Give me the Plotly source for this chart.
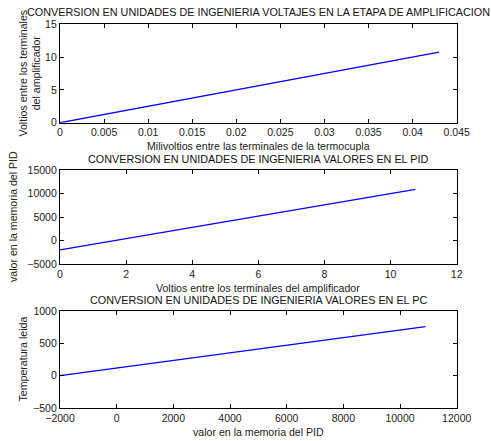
import plotly.graph_objects as go

W, H = 491, 441

# Data (endpoints of straight lines)
mv_x = [0.0, 0.043]
amp_y = [0.0, 10.75]

volt_x = [0.0, 10.75]
pid_y = [-2000.0, 10900.0]

pid_x = [-2000.0, 10900.0]
temp_y = [0.0, 760.0]

titles = [
    "CONVERSION EN UNIDADES DE INGENIERIA VOLTAJES EN LA ETAPA DE AMPLIFICACION",
    "CONVERSION EN UNIDADES DE INGENIERIA VALORES EN EL PID",
    "CONVERSION EN UNIDADES DE INGENIERIA VALORES EN EL PC",
]
xlabels = [
    "Milivoltios entre las terminales de la termocupla",
    "Voltios entre los terminales del amplificador",
    "valor en la memoria del PID",
]
ylabels = [
    "Voltios entre los terminales<br>del amplificador",
    "valor en la memoria del PID",
    "Temperatura leida",
]

x_ticks = [
    [0, 0.005, 0.01, 0.015, 0.02, 0.025, 0.03, 0.035, 0.04, 0.045],
    [0, 2, 4, 6, 8, 10, 12],
    [-2000, 0, 2000, 4000, 6000, 8000, 10000, 12000],
]
x_ticktext = [
    ["0", "0.005", "0.01", "0.015", "0.02", "0.025", "0.03", "0.035", "0.04", "0.045"],
    ["0", "2", "4", "6", "8", "10", "12"],
    ["\u22122000", "0", "2000", "4000", "6000", "8000", "10000", "12000"],
]
y_ticks = [
    [0, 5, 10, 15],
    [-5000, 0, 5000, 10000, 15000],
    [-500, 0, 500, 1000],
]
y_ticktext = [
    ["0", "5", "10", "15"],
    ["\u22125000", "0", "5000", "10000", "15000"],
    ["\u2212500", "0", "500", "1000"],
]
x_ranges = [[0, 0.045], [0, 12], [-2000, 12000]]
y_ranges = [[0, 15], [-5000, 15000], [-500, 1000]]

# pixel boxes (left, top, right, bottom)
left, right = 60, 456.7
boxes_px = [(24.3, 122.7), (170, 264), (311, 408)]
title_y_px = [12.5, 159, 300]
xlab_y_px = [146, 288, 432]
ylab_x_px = [30, 13, 22]

FONT = "Liberation Sans, Arial, sans-serif"

fig = go.Figure()
series = [(mv_x, amp_y), (volt_x, pid_y), (pid_x, temp_y)]
layout = dict(
    width=W, height=H, autosize=False,
    margin=dict(l=0, r=0, t=0, b=0, pad=0, autoexpand=False),
    paper_bgcolor="white", plot_bgcolor="white",
    showlegend=False,
    font=dict(family=FONT, size=10.5, color="#222"),
)
annotations = []
for i, (xs, ys) in enumerate(series):
    n = "" if i == 0 else str(i + 1)
    fig.add_trace(go.Scatter(x=xs, y=ys, mode="lines",
                             line=dict(color="#0000ff", width=1.3),
                             xaxis="x" + n, yaxis="y" + n))
    top, bot = boxes_px[i]
    axcommon = dict(showline=True, linecolor="black", linewidth=1.2, mirror="ticks",
                    ticks="inside", ticklen=4, tickcolor="black", showgrid=False,
                    zeroline=False, automargin=False,
                    tickfont=dict(family=FONT, size=10.5, color="#222"))
    layout["xaxis" + n] = dict(domain=[left / W, right / W], range=x_ranges[i],
                               tickvals=x_ticks[i], ticktext=x_ticktext[i],
                               anchor="y" + n, **axcommon)
    layout["yaxis" + n] = dict(domain=[1 - bot / H, 1 - top / H], range=y_ranges[i],
                               tickvals=y_ticks[i], ticktext=y_ticktext[i],
                               anchor="x" + n, **axcommon)
    cx = (left + right) / 2 / W
    annotations.append(dict(text=titles[i], x=cx, y=1 - title_y_px[i] / H,
                            xref="paper", yref="paper", showarrow=False,
                            xanchor="center", yanchor="middle",
                            font=dict(family=FONT, size=10.8, color="#111")))
    annotations.append(dict(text=xlabels[i], x=cx, y=1 - xlab_y_px[i] / H,
                            xref="paper", yref="paper", showarrow=False,
                            xanchor="center", yanchor="middle",
                            font=dict(family=FONT, size=10.6, color="#222")))
    annotations.append(dict(text=ylabels[i], x=ylab_x_px[i] / W,
                            y=1 - (top + bot) / 2 / H,
                            xref="paper", yref="paper", showarrow=False,
                            xanchor="center", yanchor="middle", textangle=-90,
                            font=dict(family=FONT, size=10.6, color="#222")))
layout["annotations"] = annotations
fig.update_layout(**layout)
fig.write_html("out.html")
